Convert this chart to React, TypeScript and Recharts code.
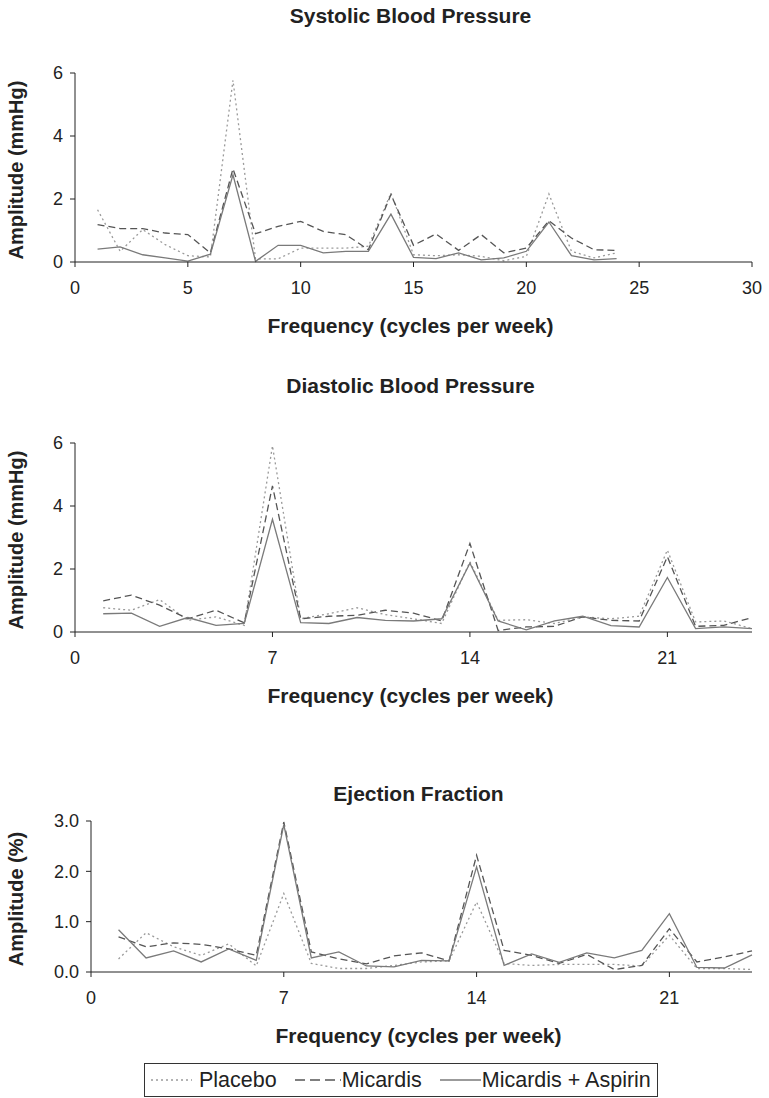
// Three amplitude spectra (systolic, diastolic, ejection fraction) with a shared legend

import React from "react";
import { LineChart, Line, XAxis, YAxis } from "recharts";

const FONT = '"Liberation Sans", Arial, Helvetica, sans-serif';
const INK = "#222";

// frequency in cycles per week
const freqs = [1, 2, 3, 4, 5, 6, 7, 8, 9, 10, 11, 12, 13, 14, 15, 16, 17, 18, 19, 20, 21, 22, 23, 24];

const systolicPlacebo = [1.66, 0.34, 1.03, 0.55, 0.2, 0.16, 5.77, 0.1, 0.1, 0.44, 0.44, 0.44, 0.5, 2.19, 0.23, 0.2, 0.23, 0.18, 0.04, 0.18, 2.16, 0.34, 0.13, 0.29];
const systolicMicardis = [1.19, 1.06, 1.06, 0.92, 0.87, 0.29, 2.96, 0.9, 1.13, 1.29, 0.97, 0.87, 0.39, 2.14, 0.53, 0.89, 0.37, 0.87, 0.29, 0.44, 1.31, 0.76, 0.39, 0.37];
const systolicCombo = [0.41, 0.48, 0.23, 0.13, 0.03, 0.25, 2.77, 0.02, 0.53, 0.53, 0.29, 0.34, 0.34, 1.52, 0.15, 0.11, 0.29, 0.07, 0.13, 0.34, 1.27, 0.2, 0.07, 0.11];

const diastolicPlacebo = [0.77, 0.69, 1.03, 0.37, 0.48, 0.21, 5.91, 0.42, 0.58, 0.77, 0.55, 0.42, 0.27, 2.23, 0.37, 0.39, 0.27, 0.48, 0.42, 0.5, 2.6, 0.32, 0.35, 0.11];
const diastolicMicardis = [0.99, 1.17, 0.85, 0.42, 0.69, 0.29, 4.64, 0.42, 0.5, 0.53, 0.69, 0.6, 0.35, 2.81, 0.05, 0.16, 0.18, 0.48, 0.37, 0.35, 2.39, 0.18, 0.21, 0.46];
const diastolicCombo = [0.58, 0.6, 0.18, 0.46, 0.21, 0.27, 3.58, 0.3, 0.27, 0.46, 0.37, 0.35, 0.42, 2.18, 0.35, 0.07, 0.35, 0.5, 0.2, 0.16, 1.73, 0.11, 0.16, 0.11];

const ejectionPlacebo = [0.26, 0.78, 0.5, 0.33, 0.56, 0.12, 1.56, 0.17, 0.07, 0.07, 0.13, 0.2, 0.22, 1.39, 0.17, 0.13, 0.15, 0.15, 0.15, 0.12, 0.73, 0.07, 0.07, 0.05];
const ejectionMicardis = [0.7, 0.5, 0.58, 0.55, 0.46, 0.33, 2.98, 0.4, 0.26, 0.16, 0.32, 0.38, 0.22, 2.32, 0.43, 0.33, 0.17, 0.35, 0.05, 0.13, 0.86, 0.2, 0.3, 0.42];
const ejectionCombo = [0.84, 0.28, 0.42, 0.2, 0.46, 0.23, 2.93, 0.28, 0.4, 0.12, 0.1, 0.23, 0.22, 2.09, 0.13, 0.36, 0.19, 0.38, 0.28, 0.43, 1.16, 0.09, 0.08, 0.34];

const systolicXTicks = [0, 5, 10, 15, 20, 25, 30];
const weeklyXTicks = [0, 7, 14, 21];
const mmHgYTicks = [0, 2, 4, 6];
const percentYTicks = [0, 1, 2, 3];

const SERIES = [
  { key: "placebo", name: "Placebo", color: "#9a9a9a", dash: "2 3" },
  { key: "micardis", name: "Micardis", color: "#555", dash: "7 4" },
  { key: "combo", name: "Micardis + Aspirin", color: "#7a7a7a", dash: undefined },
];

function buildRows(placebo: number[], micardis: number[], combo: number[]) {
  return freqs.map((f, i) => ({ freq: f, placebo: placebo[i], micardis: micardis[i], combo: combo[i] }));
}

interface PanelProps {
  top: number;
  titleTop: number;
  title: string;
  yLabel: string;
  rows: ReturnType<typeof buildRows>;
  xMax: number;
  xTicks: number[];
  yMax: number;
  yTicks: number[];
  yAxisWidth: number;
  plotHeight: number;
  yFormat?: (v: number) => string;
}

function Panel({ top, titleTop, title, yLabel, rows, xMax, xTicks, yMax, yTicks, yAxisWidth, plotHeight, yFormat }: PanelProps) {
  const width = 769;
  const marginTop = 73;
  const marginRight = 17;
  const xAxisHeight = 42;
  const height = marginTop + plotHeight + xAxisHeight;
  const plotCenter = (yAxisWidth + width - marginRight) / 2;
  const text = { position: "absolute" as const, fontFamily: FONT, color: INK, lineHeight: 1, whiteSpace: "nowrap" as const };
  const tickStyle = { fontSize: 18, fill: INK, fontFamily: FONT };

  return (
    <div style={{ position: "absolute", left: 0, top, width, height }}>
      <div style={{ ...text, left: plotCenter - 3, top: titleTop, transform: "translate(-50%,-50%)", fontSize: 21, fontWeight: "bold" }}>
        {title}
      </div>
      <div
        style={{
          ...text,
          left: 16,
          top: marginTop + plotHeight / 2 + 2,
          transform: "translate(-50%,-50%) rotate(-90deg)",
          fontSize: 20,
          fontWeight: "bold",
        }}
      >
        {yLabel}
      </div>
      <div style={{ ...text, left: plotCenter - 3, top: marginTop + plotHeight + 63, transform: "translate(-50%,-50%)", fontSize: 21, fontWeight: "bold" }}>
        Frequency (cycles per week)
      </div>
      <LineChart width={width} height={height} data={rows} margin={{ top: marginTop, right: marginRight, bottom: 0, left: 0 }}>
        <XAxis
          type="number"
          dataKey="freq"
          domain={[0, xMax]}
          ticks={xTicks}
          interval={0}
          tickSize={5}
          tickMargin={14}
          stroke={INK}
          tick={tickStyle}
          height={xAxisHeight}
        />
        <YAxis
          type="number"
          domain={[0, yMax]}
          ticks={yTicks}
          interval={0}
          tickSize={5}
          tickMargin={7}
          stroke={INK}
          tick={tickStyle}
          width={yAxisWidth}
          tickFormatter={yFormat}
        />
        {SERIES.map((s) => (
          <Line
            key={s.key}
            type="linear"
            dataKey={s.key}
            stroke={s.color}
            strokeWidth={1.3}
            strokeDasharray={s.dash}
            dot={false}
            activeDot={false}
            isAnimationActive={false}
          />
        ))}
      </LineChart>
    </div>
  );
}

function LegendBox() {
  return (
    <div
      style={{
        position: "absolute",
        left: 144,
        top: 1063,
        width: 514,
        height: 34,
        border: "1px solid #333",
        boxSizing: "border-box",
        display: "flex",
        alignItems: "center",
        fontFamily: FONT,
        fontSize: 21.5,
        color: INK,
        paddingLeft: 6,
      }}
    >
      {SERIES.map((s, i) => (
        <span key={s.key} style={{ display: "inline-flex", alignItems: "center", marginLeft: i === 0 ? 0 : 18 }}>
          <svg width={i === 1 ? 46 : 41} height={10} style={{ marginRight: i === 0 ? 7 : 1 }}>
            <line x1={0} y1={5} x2={46} y2={5} stroke={s.color} strokeWidth={1.3} strokeDasharray={s.dash === "7 4" ? "10 5" : s.dash} />
          </svg>
          {s.name}
        </span>
      ))}
    </div>
  );
}

export default function App() {
  return (
    <div style={{ position: "absolute", left: 0, top: 0, width: 769, height: 1098, background: "#fff" }}>
      <Panel
        top={0}
        titleTop={15}
        title="Systolic Blood Pressure"
        yLabel="Amplitude (mmHg)"
        rows={buildRows(systolicPlacebo, systolicMicardis, systolicCombo)}
        xMax={30}
        xTicks={systolicXTicks}
        yMax={6}
        yTicks={mmHgYTicks}
        yAxisWidth={75}
        plotHeight={189}
      />
      <Panel
        top={370}
        titleTop={15}
        title="Diastolic Blood Pressure"
        yLabel="Amplitude (mmHg)"
        rows={buildRows(diastolicPlacebo, diastolicMicardis, diastolicCombo)}
        xMax={24}
        xTicks={weeklyXTicks}
        yMax={6}
        yTicks={mmHgYTicks}
        yAxisWidth={75}
        plotHeight={189}
      />
      <Panel
        top={748}
        titleTop={45}
        title="Ejection Fraction"
        yLabel="Amplitude (%)"
        rows={buildRows(ejectionPlacebo, ejectionMicardis, ejectionCombo)}
        xMax={24}
        xTicks={weeklyXTicks}
        yMax={3}
        yTicks={percentYTicks}
        yAxisWidth={91}
        plotHeight={151}
        yFormat={(v) => v.toFixed(1)}
      />
      <LegendBox />
    </div>
  );
}
